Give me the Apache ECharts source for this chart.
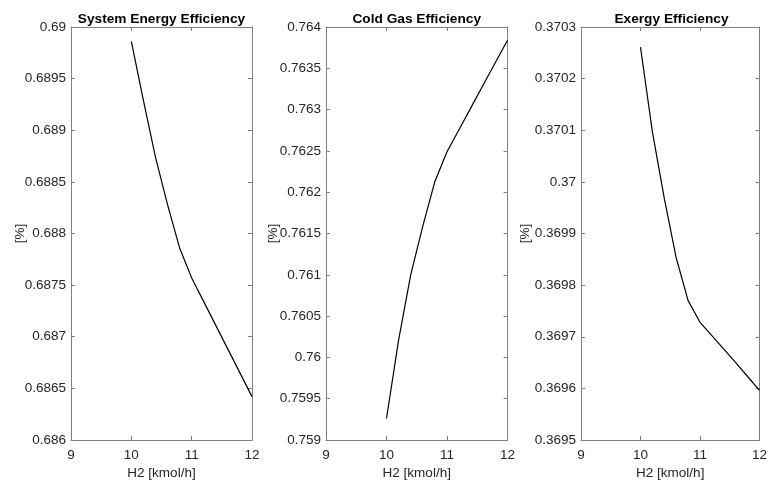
<!DOCTYPE html>
<html>
<head>
<meta charset="utf-8">
<script src="https://cdn.jsdelivr.net/npm/echarts@6/dist/echarts.min.js"></script>
<style>
  html, body { margin: 0; padding: 0; background: #fff; }
  #chart { width: 770px; height: 485px; }
</style>
</head>
<body>
<div id="chart"></div>
<script>
// H2 feed rate [kmol/h]
const h2 = [10, 10.2, 10.4, 10.6, 10.8, 11, 11.2, 11.4, 11.6, 11.8, 12];

// Efficiencies for each H2 feed rate
const systemEnergyEff = [0.68986, 0.68929, 0.68874, 0.68828, 0.68786, 0.68757, 0.68734, 0.68711, 0.68688, 0.68665, 0.68642];
const coldGasEff      = [0.75926, 0.76021, 0.76100, 0.76159, 0.76213, 0.76249, 0.76276, 0.76303, 0.76330, 0.76357, 0.76384];
const exergyEff       = [0.370261, 0.370097, 0.369968, 0.369853, 0.36977, 0.369728, 0.369702, 0.369676, 0.36965, 0.369623, 0.369596];

// Axis ranges: [min, max, interval]
const xRange      = [9, 12, 1];
const systemRange = [0.686, 0.69, 0.0005];
const coldRange   = [0.759, 0.764, 0.0005];
const exergyRange = [0.3695, 0.3703, 0.0001];

const panelTitles = ['System Energy Efficiency', 'Cold Gas Efficiency', 'Exergy Efficiency'];
const xName = 'H2 [kmol/h]';
const yName = '[%]';

const FONT = '"Liberation Sans", Arial, Helvetica, sans-serif';
const AXIS_COLOR = '#808080';
const TEXT_COLOR = '#262626';

const panels = [
  { left: 71,  width: 181,   yNameGap: 44, range: systemRange, data: systemEnergyEff },
  { left: 326, width: 181.5, yNameGap: 46, range: coldRange,   data: coldGasEff },
  { left: 581, width: 181,   yNameGap: 49, range: exergyRange, data: exergyEff }
];

const TOP = 27, BOTTOM_Y = 444;

const grid = [], xAxis = [], yAxis = [], series = [], title = [];

panels.forEach((p, i) => {
  grid.push({ left: p.left, top: TOP, width: p.width, height: BOTTOM_Y - TOP, containLabel: false });

  const tickStyle = { show: true, inside: true, length: 4, lineStyle: { color: AXIS_COLOR, width: 1 } };
  const lineStyle = { show: true, onZero: false, lineStyle: { color: AXIS_COLOR, width: 1 } };

  // bottom x axis with labels
  xAxis.push({
    type: 'value', gridIndex: i, position: 'bottom',
    min: xRange[0], max: xRange[1], interval: xRange[2],
    axisLine: lineStyle, axisTick: tickStyle, splitLine: { show: false },
    axisLabel: { margin: 8, color: TEXT_COLOR, fontFamily: FONT, fontSize: 13.5 },
    name: xName, nameLocation: 'middle', nameGap: 26, nameMoveOverlap: false,
    nameTextStyle: { color: TEXT_COLOR, fontFamily: FONT, fontSize: 13.5 }
  });
  // top x axis (ticks only)
  xAxis.push({
    type: 'value', gridIndex: i, position: 'top',
    min: xRange[0], max: xRange[1], interval: xRange[2],
    axisLine: lineStyle, axisTick: tickStyle, splitLine: { show: false },
    axisLabel: { show: false }
  });
  // left y axis with labels
  yAxis.push({
    type: 'value', gridIndex: i, position: 'left',
    min: p.range[0], max: p.range[1], interval: p.range[2],
    axisLine: lineStyle, axisTick: tickStyle, splitLine: { show: false },
    axisLabel: { margin: 5, color: TEXT_COLOR, fontFamily: FONT, fontSize: 13.5 },
    name: yName, nameLocation: 'middle', nameGap: p.yNameGap, nameRotate: 90, nameMoveOverlap: false,
    nameTextStyle: { color: TEXT_COLOR, fontFamily: FONT, fontSize: 13.5 }
  });
  // right y axis (ticks only)
  yAxis.push({
    type: 'value', gridIndex: i, position: 'right',
    min: p.range[0], max: p.range[1], interval: p.range[2],
    axisLine: lineStyle, axisTick: tickStyle, splitLine: { show: false },
    axisLabel: { show: false }
  });

  series.push({
    type: 'line',
    xAxisIndex: i * 2, yAxisIndex: i * 2,
    data: h2.map((x, k) => [x, p.data[k]]),
    showSymbol: false, symbol: 'none',
    lineStyle: { color: '#000', width: 1.2 },
    animation: false
  });

  title.push({
    text: panelTitles[i],
    left: p.left + p.width / 2 - 5, top: 7, textAlign: 'center',
    textStyle: { color: '#000', fontFamily: FONT, fontSize: 13.7, fontWeight: 'bold' }
  });
});

const chart = echarts.init(document.getElementById('chart'), null, { renderer: 'canvas' });
chart.setOption({
  backgroundColor: '#fff',
  animation: false,
  title, grid, xAxis, yAxis, series
});
</script>
</body>
</html>
